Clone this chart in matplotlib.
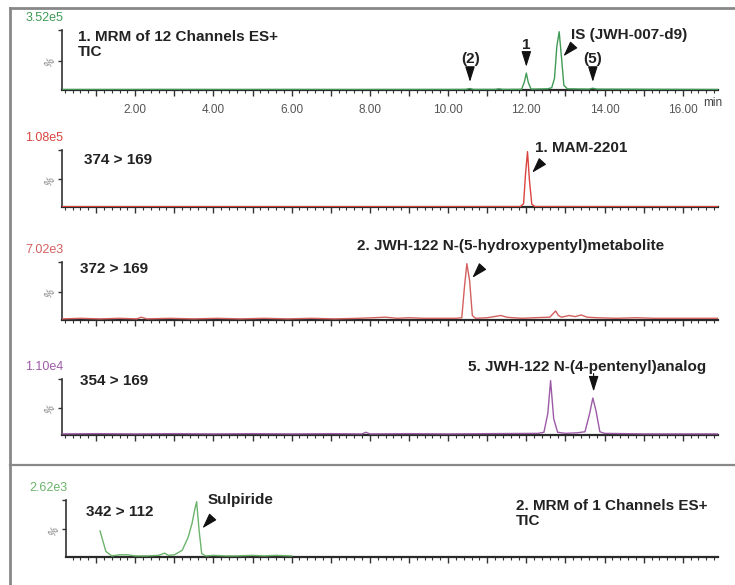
import matplotlib
matplotlib.use("Agg")
import matplotlib.pyplot as plt
from matplotlib.ticker import MultipleLocator, FuncFormatter
from matplotlib.lines import Line2D

plt.rcParams['font.family'] = ['Liberation Sans', 'DejaVu Sans']

W, H = 735, 585

# --- data (time in min, intensity in % of full scale) ---
tic_t = [0.13, 1.0, 2.0, 3.0, 4.0, 5.0, 6.0, 7.0, 8.0, 9.0, 10.0, 10.45, 10.55, 10.65,
         11.2, 11.3, 11.4, 11.88, 11.95, 12.0, 12.05, 12.12, 12.55, 12.65, 12.72, 12.78,
         12.84, 12.9, 12.96, 13.05, 13.6, 13.7, 13.8, 16.9]
tic_v = [0.8, 0.8, 0.8, 0.9, 0.8, 0.8, 0.9, 0.8, 0.8, 0.9, 0.9, 1.0, 2.5, 1.0,
         1.0, 2.0, 1.0, 1.2, 14, 29, 13, 1.5, 2.0, 4.0, 20, 75,
         100, 55, 8, 2.0, 1.5, 3.0, 1.5, 0.8]

mrm374_t = [0.13, 4.0, 8.0, 11.85, 11.93, 11.98, 12.03, 12.08, 12.14, 12.22, 16.9]
mrm374_v = [0.6, 0.6, 0.6, 0.7, 6, 60, 100, 48, 5, 0.7, 0.6]

mrm372_t = [0.13, 0.6, 1.1, 1.6, 2.05, 2.15, 2.3, 2.9, 3.5, 4.1, 4.7, 5.3, 5.9, 6.5, 7.1,
            7.7, 8.1, 8.4, 8.7, 9.0, 9.4, 9.8, 10.2, 10.35, 10.42, 10.48, 10.55, 10.62,
            10.7, 11.0, 11.35, 11.5, 11.65, 11.9, 12.2, 12.6, 12.75, 12.82, 12.9, 13.1,
            13.25, 13.4, 13.55, 13.8, 14.3, 14.8, 15.3, 15.8, 16.3, 16.9]
mrm372_v = [2, 3, 2, 3, 2, 5, 2, 3, 2, 3, 2, 3, 2, 3, 2,
            3, 4, 5, 3, 4, 3, 3, 3, 4, 60, 100, 70, 8,
            3, 4, 8, 5, 4, 3, 4, 5, 16, 8, 5, 8,
            6, 9, 5, 4, 3, 4, 3, 3, 3, 3]

mrm354_t = [0.13, 1, 2, 3, 4, 5, 6, 7, 7.8, 7.9, 8, 9, 10, 11, 12.3, 12.45, 12.55, 12.62,
            12.7, 12.8, 13.0, 13.3, 13.5, 13.62, 13.7, 13.78, 13.88, 14.0, 15, 16.9]
mrm354_v = [2, 2.5, 2, 2.5, 2, 2.5, 2, 2.5, 2, 5, 2, 2.5, 2, 2.5, 3, 5, 40, 100,
            30, 5, 3, 4, 6, 40, 68, 45, 6, 3, 2, 2]

mrm342_t = [1.1, 1.25, 1.4, 1.6, 1.8, 2.0, 2.3, 2.6, 2.75, 2.85, 3.0, 3.2, 3.35, 3.45,
            3.52, 3.57, 3.63, 3.7, 3.8, 4.0, 4.3, 4.6, 5.0, 5.3, 5.6, 6.0]
mrm342_v = [47, 10, 2, 4, 4, 2, 2, 3, 7, 3, 4, 12, 35, 60,
            85, 100, 50, 6, 2, 3, 2, 2, 3, 2, 3, 2]

scales = ["3.52e5", "1.08e5", "7.02e3", "1.10e4", "2.62e3"]
channels = [None, "374 > 169", "372 > 169", "354 > 169", "342 > 112"]
colors = ["#3f9a55", "#d9443f", "#d2605e", "#9c5aa6", "#6cb36c"]


def fx(x):
    return x / W


def fy(y):
    return 1 - y / H


fig = plt.figure(figsize=(W / 100, H / 100), dpi=100)

# panel boxes in pixels: left, top, right, bottom
boxes = [(62, 30, 718, 90), (62, 150, 718, 207), (62, 262, 718, 320),
         (62, 379, 718, 435), (66, 500, 718, 557)]
traces = [(tic_t, tic_v), (mrm374_t, mrm374_v), (mrm372_t, mrm372_v),
          (mrm354_t, mrm354_v), (mrm342_t, mrm342_v)]

axes = []
for i, (l, t, r, b) in enumerate(boxes):
    ax = fig.add_axes([fx(l), fy(b), fx(r - l), (b - t) / H])
    ax.plot(traces[i][0], traces[i][1], color=colors[i], lw=1.0, zorder=3)
    ax.set_xlim(0.13 if i < 4 else 0.23, 16.9)
    ax.set_ylim(0, 103)
    for s in ['top', 'right']:
        ax.spines[s].set_visible(False)
    ax.spines['left'].set_color('#333333')
    ax.spines['left'].set_linewidth(1.2)
    ax.spines['bottom'].set_color('#2a2a2a')
    ax.spines['bottom'].set_linewidth(1.6)
    ax.xaxis.set_major_locator(MultipleLocator(1))
    ax.xaxis.set_minor_locator(MultipleLocator(0.2))
    ax.tick_params(axis='x', which='major', length=4, width=1, color='#333333',
                   labelsize=8.5, labelcolor='#555555', pad=6)
    ax.tick_params(axis='x', which='minor', length=2.5, width=0.8, color='#333333')
    if i == 0:
        ax.xaxis.set_major_formatter(FuncFormatter(
            lambda v, p: "%.2f" % v if round(v) % 2 == 0 and v > 0.5 else ""))
    else:
        ax.set_xticklabels([])
    ax.set_yticks([50, 103])
    ax.set_yticklabels(['%', ''])
    ax.tick_params(axis='y', length=3, width=1, color='#333333', labelsize=7,
                   labelcolor='#777777', pad=1)
    for lab in ax.get_yticklabels():
        lab.set_rotation(60)
    ax.patch.set_alpha(0)
    fig.text(fx(l + 1), fy(t - 12), scales[i], color=colors[i], fontsize=9,
             ha='right', va='center')
    axes.append(ax)

# "min" unit label
fig.text(fx(703), fy(103), "min", fontsize=8.5, color='#444444', ha='left', va='center')

bold = dict(fontsize=11, fontweight='bold', color='#222222')

# titles and channel labels
fig.text(fx(78), fy(30), "1. MRM of 12 Channels ES+\nTIC", ha='left', va='top',
         linespacing=1.05, **bold)
fig.text(fx(516), fy(499), "2. MRM of 1 Channels ES+\nTIC", ha='left', va='top',
         linespacing=1.05, **bold)
chan_pos = [None, (84, 160), (80, 269), (80, 381), (86, 512)]
for i in range(1, 5):
    fig.text(fx(chan_pos[i][0]), fy(chan_pos[i][1]), channels[i], ha='left', va='center',
             **bold)

# peak labels
fig.text(fx(471), fy(59), "(2)", ha='center', va='center', **bold)
fig.text(fx(526), fy(45), "1", ha='center', va='center', **bold)
fig.text(fx(571), fy(35), "IS (JWH-007-d9)", ha='left', va='center', **bold)
fig.text(fx(593), fy(59), "(5)", ha='center', va='center', **bold)
fig.text(fx(535), fy(148), "1. MAM-2201", ha='left', va='center', **bold)
fig.text(fx(357), fy(246), "2. JWH-122 N-(5-hydroxypentyl)metabolite", ha='left',
         va='center', **bold)
fig.text(fx(468), fy(367), "5. JWH-122 N-(4-pentenyl)analog", ha='left', va='center',
         **bold)
fig.text(fx(208), fy(500), "Sulpiride", ha='left', va='center', **bold)

# arrowheads: (axis, tip time, tip %, base offset in pixels)
head = dict(arrowstyle='-|>,head_length=0.95,head_width=0.3', color='#111111',
            lw=0.8, shrinkA=0, shrinkB=0, mutation_scale=10)
arrows = [(0, 10.56, 14, 0, 14), (0, 12.0, 40, 0, 14), (0, 12.95, 58, 10, 11),
          (0, 13.7, 14, 0, 14), (1, 12.15, 62, 10, 11), (2, 10.62, 75, 10, 11),
          (3, 13.72, 80, 0, 18), (4, 3.72, 52, 10, 11)]
for i, t, v, dx, dy in arrows:
    axes[i].annotate('', xy=(t, v), xytext=(dx, dy), textcoords='offset pixels',
                     arrowprops=head, annotation_clip=False)

# outer frame and separator
fig.add_artist(Line2D([fx(10), fx(10)], [fy(8), 0], color='#888888', lw=2))
fig.add_artist(Line2D([fx(10), 1], [fy(8), fy(8)], color='#888888', lw=2))
fig.add_artist(Line2D([fx(10), 1], [fy(465), fy(465)], color='#888888', lw=1.6))

fig.savefig("out.png", dpi=100)
